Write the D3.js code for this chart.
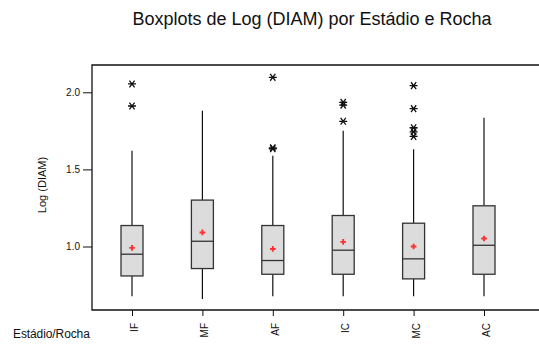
<!DOCTYPE html>
<html>
<head>
<meta charset="utf-8">
<script src="https://cdn.jsdelivr.net/npm/d3@7"></script>
<style>
  body { margin: 0; background: #fff; }
  text { font-family: "Liberation Sans", Arial, sans-serif; fill: #111; }
</style>
</head>
<body>
<div id="viz"></div>
<script>
// data
const categories = ['IF', 'MF', 'AF', 'IC', 'MC', 'AC'];
const whiskerLow = [0.677, 0.660, 0.677, 0.677, 0.677, 0.677];
const q1 = [0.809, 0.857, 0.820, 0.820, 0.790, 0.820];
const medians = [0.950, 1.034, 0.909, 0.976, 0.920, 1.008];
const q3 = [1.136, 1.301, 1.136, 1.201, 1.151, 1.264];
const whiskerHigh = [1.621, 1.881, 1.588, 1.751, 1.630, 1.835];
const means = [0.991, 1.091, 0.984, 1.030, 1.000, 1.052];
const outliers = [
  [2.054, 1.911],
  [],
  [2.097, 1.640, 1.634],
  [1.935, 1.917, 1.812],
  [2.043, 1.894, 1.770, 1.744, 1.714],
  []
];
const yTicks = [1.0, 1.5, 2.0];

const width = 539;
const height = 355;

const svg = d3.select('#viz')
  .append('svg')
  .attr('width', width)
  .attr('height', height);

const plotLeft = 92, plotTop = 65, plotBottom = 310;

const x = d3.scalePoint()
  .domain(categories)
  .range([132, 484]);

const y = d3.scaleLinear()
  .domain([1.0, 2.0])
  .range([246.5, 92.3]);

// frame (no right side)
svg.append('path')
  .attr('d', `M${width},${plotTop}H${plotLeft}V${plotBottom}H${width}`)
  .attr('fill', 'none')
  .attr('stroke', '#111')
  .attr('stroke-width', 1.3);

// y axis
const yAxis = svg.append('g')
  .attr('transform', `translate(${plotLeft},0)`)
  .call(d3.axisLeft(y).tickValues(yTicks).tickFormat(d3.format('.1f')).tickSize(9).tickPadding(3));
yAxis.select('.domain').remove();
yAxis.selectAll('line').attr('stroke', '#111');
yAxis.selectAll('text').style('font-size', '10px').attr('fill', '#222');

// x axis
const xAxis = svg.append('g')
  .attr('transform', `translate(0,${plotBottom})`)
  .call(d3.axisBottom(x).tickSize(6).tickPadding(0));
xAxis.select('.domain').remove();
xAxis.selectAll('line').attr('stroke', '#111');
xAxis.selectAll('text')
  .style('font-size', '10px')
  .attr('fill', '#222')
  .attr('text-anchor', 'end')
  .attr('transform', 'rotate(-90)')
  .attr('x', -13)
  .attr('y', 5.5)
  .attr('dy', null);

const bw = 22;
const boxes = svg.append('g').selectAll('g')
  .data(categories)
  .join('g');

// whiskers
boxes.append('line')
  .attr('x1', d => x(d)).attr('x2', d => x(d))
  .attr('y1', (d, i) => y(whiskerHigh[i]))
  .attr('y2', (d, i) => y(q3[i]))
  .attr('stroke', '#111').attr('stroke-width', 1.2);
boxes.append('line')
  .attr('x1', d => x(d)).attr('x2', d => x(d))
  .attr('y1', (d, i) => y(q1[i]))
  .attr('y2', (d, i) => y(whiskerLow[i]))
  .attr('stroke', '#111').attr('stroke-width', 1.2);

// box
boxes.append('rect')
  .attr('x', d => x(d) - bw / 2)
  .attr('y', (d, i) => y(q3[i]))
  .attr('width', bw)
  .attr('height', (d, i) => y(q1[i]) - y(q3[i]))
  .attr('fill', '#dcdcdc')
  .attr('stroke', '#333')
  .attr('stroke-width', 1.3);

// median
boxes.append('line')
  .attr('x1', d => x(d) - bw / 2).attr('x2', d => x(d) + bw / 2)
  .attr('y1', (d, i) => y(medians[i]))
  .attr('y2', (d, i) => y(medians[i]))
  .attr('stroke', '#333').attr('stroke-width', 1.3);

// mean marker
boxes.append('path')
  .attr('d', d3.symbol(d3.symbolCross, 18))
  .attr('transform', (d, i) => `translate(${x(d)},${y(means[i])})`)
  .attr('fill', '#ff3030');

// outliers as asterisks
const star = 'M-4,0H4M-2.6,-3.4L2.6,3.4M-2.6,3.4L2.6,-3.4';
boxes.each(function (d, i) {
  d3.select(this).selectAll('path.out')
    .data(outliers[i])
    .join('path')
    .attr('class', 'out')
    .attr('d', star)
    .attr('transform', v => `translate(${x(d)},${y(v)})`)
    .attr('fill', 'none')
    .attr('stroke', '#111')
    .attr('stroke-width', 1.3);
});

// titles
svg.append('text')
  .attr('x', 312)
  .attr('y', 25)
  .attr('text-anchor', 'middle')
  .style('font-size', '18px')
  .text('Boxplots de Log (DIAM) por Estádio e Rocha');

svg.append('text')
  .attr('transform', 'translate(46,185) rotate(-90)')
  .attr('text-anchor', 'middle')
  .style('font-size', '11px')
  .text('Log (DIAM)');

svg.append('text')
  .attr('x', 13)
  .attr('y', 338)
  .style('font-size', '12px')
  .style('letter-spacing', '-0.1px')
  .text('Estádio/Rocha');
</script>
</body>
</html>
